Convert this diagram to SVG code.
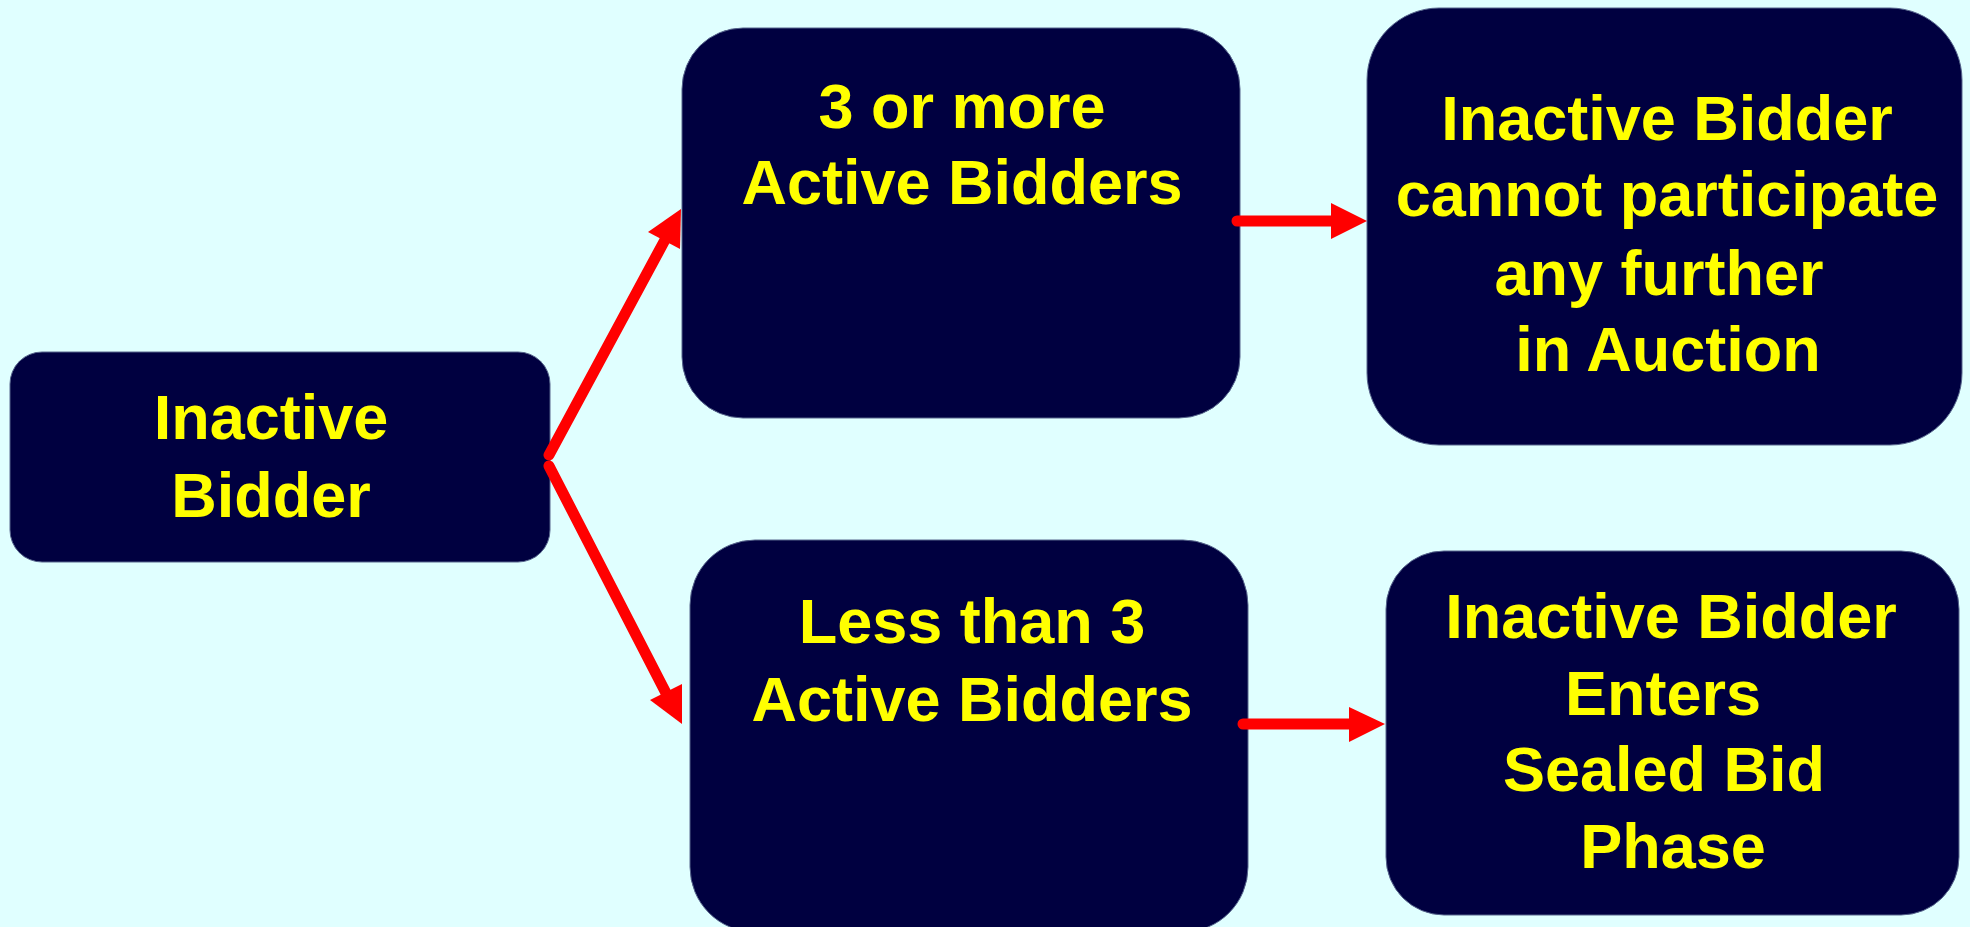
<svg xmlns="http://www.w3.org/2000/svg" width="1970" height="927" viewBox="0 0 1970 927">
<style>
.box{fill:#000040;stroke:#56648c;stroke-width:1}
.t{font-family:"Liberation Sans",Arial,sans-serif;font-weight:bold;font-size:63px;fill:#FFFF00;text-anchor:middle}
.ln{stroke:#FF0000;stroke-width:11;stroke-linecap:round;fill:none}
.hd{fill:#FF0000}
</style>
<rect x="0" y="0" width="1970" height="927" fill="#E0FFFF"/>
<g id="node-inactive">
<rect class="box" x="10" y="352" width="540" height="210" rx="32" ry="32"/>
<text class="t" x="271" y="439">Inactive</text>
<text class="t" x="271" y="517">Bidder</text>
</g>
<g id="node-3ormore">
<rect class="box" x="682" y="28" width="558" height="390" rx="61" ry="61"/>
<text class="t" x="962" y="128">3 or more</text>
<text class="t" x="962" y="204">Active Bidders</text>
</g>
<g id="node-cannot">
<rect class="box" x="1367" y="8" width="595" height="437" rx="72" ry="72"/>
<text class="t" x="1667" y="140">Inactive Bidder</text>
<text class="t" x="1667" y="216">cannot participate</text>
<text class="t" x="1659" y="295">any further</text>
<text class="t" x="1668" y="371">in Auction</text>
</g>
<g id="node-lessthan3">
<rect class="box" x="690" y="540" width="558" height="392" rx="65" ry="65"/>
<text class="t" x="972" y="643">Less than 3</text>
<text class="t" x="972" y="721">Active Bidders</text>
</g>
<g id="node-sealed">
<rect class="box" x="1386" y="551" width="573" height="364" rx="58" ry="58"/>
<text class="t" x="1671" y="638">Inactive Bidder</text>
<text class="t" x="1663" y="715">Enters</text>
<text class="t" x="1664" y="791">Sealed Bid</text>
<text class="t" x="1673" y="868">Phase</text>
</g>
<g id="connectors">
<line class="ln" x1="549" y1="455" x2="666" y2="238"/>
<polygon class="hd" points="681,209 680,249 648,232"/>
<line class="ln" x1="549" y1="466" x2="667" y2="695"/>
<polygon class="hd" points="682,724 650,700 682,684"/>
<line class="ln" x1="1237" y1="221" x2="1333" y2="221"/>
<polygon class="hd" points="1331,203 1367,221 1331,239"/>
<line class="ln" x1="1243" y1="724" x2="1351" y2="724"/>
<polygon class="hd" points="1349,707 1385,724 1349,742"/>
</g>
</svg>
